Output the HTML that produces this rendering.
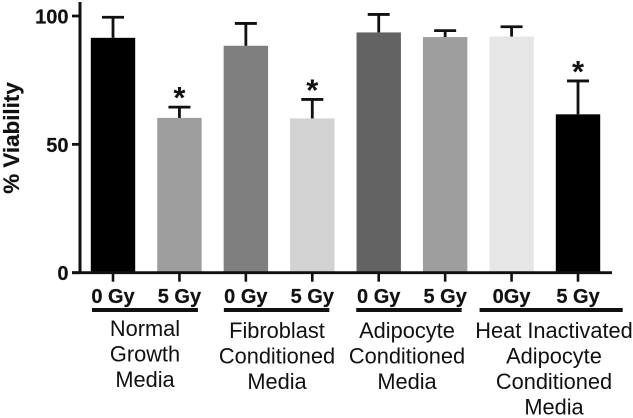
<!DOCTYPE html>
<html lang="en">
<head>
<meta charset="utf-8">
<title>Viability bar chart</title>
<style>
html,body{margin:0;padding:0;background:#fff;width:633px;height:418px;overflow:hidden}
svg{display:block;filter:blur(0.35px)}
text{font-family:"Liberation Sans",Arial,sans-serif;fill:#111}
.b{font-weight:700;font-size:20px;stroke:#111;stroke-width:0.2px}
.g{font-size:21.8px;text-anchor:middle}
</style>
</head>
<body>
<svg id="chart" width="633" height="418" viewBox="0 0 633 418" xmlns="http://www.w3.org/2000/svg"></svg>
<script>
const categories = ["0 Gy", "5 Gy", "0 Gy", "5 Gy", "0 Gy", "5 Gy", "0Gy", "5 Gy"];
const viability = [91.5, 60.3, 88.4, 60.1, 93.6, 91.8, 92, 61.7];
const errorTop = [99.5, 64.5, 97.1, 67.5, 100.6, 94.3, 95.8, 74.7];
const significant = [false, true, false, true, false, false, false, true];
const barColors = ["#000000", "#9e9e9e", "#7f7f7f", "#d2d2d2", "#636363", "#9e9e9e", "#e6e6e6", "#000000"];
const yTicks = [0, 50, 100];
const groupNames = [
  ["Normal", "Growth", "Media"],
  ["Fibroblast", "Conditioned", "Media"],
  ["Adipocyte", "Conditioned", "Media"],
  ["Heat Inactivated", "Adipocyte", "Conditioned", "Media"]
];
const groupSpans = [[0, 1], [2, 3], [4, 5], [6, 7]];

const NS = "http://www.w3.org/2000/svg";
const svg = document.getElementById("chart");
const yScale = v => 272.7 - v * 2.567;
const xScale = i => 113 + i * 66.43;
const barW = 44.4;

function make(tag, attrs, text) {
  const el = document.createElementNS(NS, tag);
  for (const k in attrs) el.setAttribute(k, attrs[k]);
  if (text !== undefined) el.textContent = text;
  svg.appendChild(el);
  return el;
}

viability.forEach((v, i) => {
  const cx = xScale(i);
  const bar = make("rect", {x: cx - barW / 2, y: yScale(v), width: barW, height: yScale(0) - yScale(v), fill: barColors[i]});
  
  

  const stem = make("line", {x1: cx, x2: cx, y1: yScale(v), y2: yScale(errorTop[i]), stroke: "#111", "stroke-width": 2.8});
  
  

  const cap = make("line", {x1: cx - 11, x2: cx + 11, y1: yScale(errorTop[i]), y2: yScale(errorTop[i]), stroke: "#111", "stroke-width": 2.8});
  
  

  const tick = make("line", {x1: cx, x2: cx, y1: yScale(0), y2: 281.7, stroke: "#111", "stroke-width": 2.6});
  
  

  const label = make("text", {x: cx, y: 303, "text-anchor": "middle", class: "b"}, categories[i]);
  
  

  if (significant[i]) {
    const star = make("text", {x: cx, y: yScale(errorTop[i]) + 1, "text-anchor": "middle", style: "font-size:31px;font-weight:700"}, "*");
    
    
  }
});

yTicks.forEach(t => {
  const tick = make("line", {x1: 72, x2: 80, y1: yScale(t), y2: yScale(t), stroke: "#111", "stroke-width": 2.8});
  
  

  const label = make("text", {x: 68.5, y: yScale(t) + 7.5, "text-anchor": "end", class: "b"}, String(t));
  
  
});

const yAxis = make("line", {x1: 80, x2: 80, y1: 2, y2: 274, stroke: "#111", "stroke-width": 3});



const xAxis = make("line", {x1: 72, x2: 612, y1: yScale(0), y2: yScale(0), stroke: "#111", "stroke-width": 2.8});



const yTitle = make("text", {transform: "translate(19,138) rotate(-90)", "text-anchor": "middle", style: "font-size:22.4px;font-weight:700;stroke:#111;stroke-width:0.2px"}, "% Viability");



const groupExtra = [[-21, 18.5], [-22, 17], [-22.5, 16.5], [-32, 44.7]];
const groupCenters = [145, 277, 407, 554];
const groupFirstBaseline = [336, 338, 338, 338];

groupNames.forEach((lines, g) => {
  const span = groupSpans[g];
  const rule = make("rect", {x: xScale(span[0]) + groupExtra[g][0], y: 308, width: xScale(span[1]) + groupExtra[g][1] - xScale(span[0]) - groupExtra[g][0], height: 4, fill: "#111"});
  
  

  lines.forEach((line, n) => {
    const t = make("text", {x: groupCenters[g], y: groupFirstBaseline[g] + n * 25.5, class: "g"}, line);
    
    
  });
});
</script>
</body>
</html>
